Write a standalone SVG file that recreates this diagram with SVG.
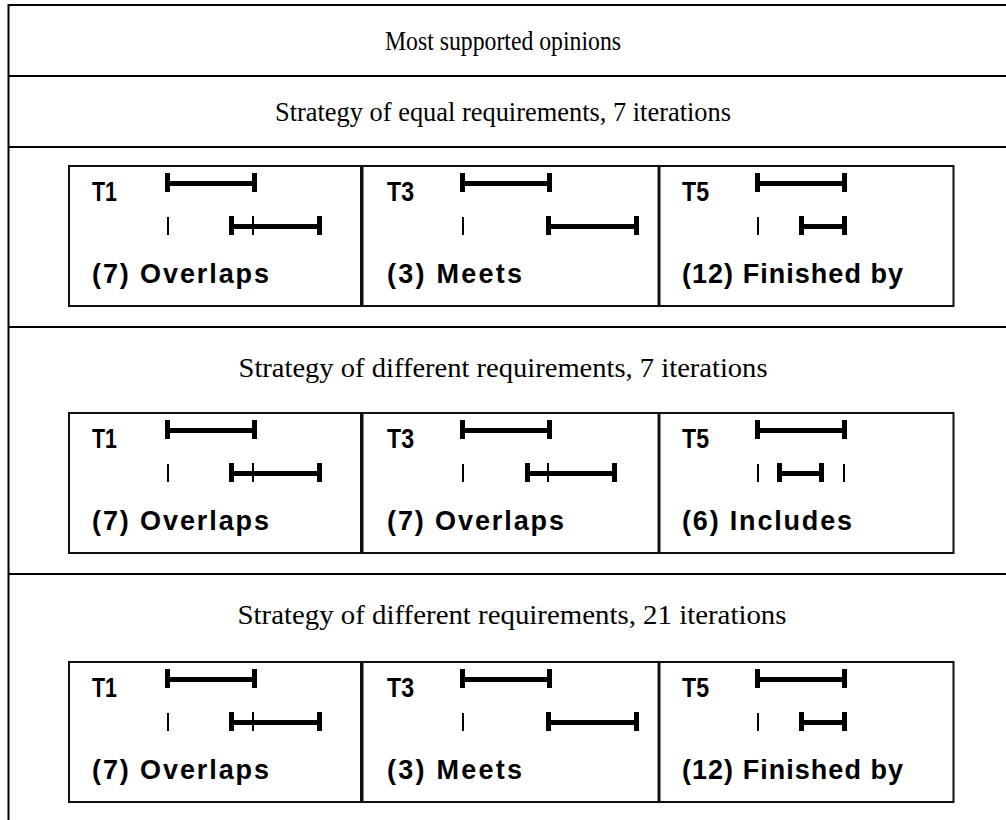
<svg xmlns="http://www.w3.org/2000/svg" width="1006" height="820" viewBox="0 0 1006 820">
<style>
.frame{fill:none;stroke:#000;stroke-width:2}
.title{font-family:"Liberation Serif","Times New Roman",serif;font-size:28px;fill:#000;text-anchor:middle}
.panel{fill:#fff;stroke:#111;stroke-width:2}
.tl{font-family:"Liberation Sans",Arial,sans-serif;font-size:28px;font-weight:bold;fill:#000}
.lb{font-family:"Liberation Sans",Arial,sans-serif;font-size:27px;font-weight:bold;fill:#000}
.b{fill:#000}
</style>
<rect width="1006" height="820" fill="#fff"/>
<g id="frame">
<path class="frame" d="M1006 5H8.5V820M8.5 76H1006M8.5 147H1006M8.5 327H1006M8.5 574H1006"/>
</g>
<g id="header"><text class="title" x="503" y="50" textLength="236" lengthAdjust="spacingAndGlyphs">Most supported opinions</text></g>
<g id="section1-title"><text class="title" x="503" y="121" textLength="456" lengthAdjust="spacingAndGlyphs">Strategy of equal requirements, 7 iterations</text></g>
<g id="section2-title"><text class="title" x="503" y="377" textLength="529" lengthAdjust="spacingAndGlyphs">Strategy of different requirements, 7 iterations</text></g>
<g id="section3-title"><text class="title" x="512" y="624" textLength="549" lengthAdjust="spacingAndGlyphs">Strategy of different requirements, 21 iterations</text></g>

<g id="row1">
<g id="r1-t1">
<rect class="panel" x="69" y="166" width="292" height="140"/>
<text class="tl" x="92" y="200.5" textLength="25" lengthAdjust="spacingAndGlyphs">T1</text>
<rect class="b" x="165" y="181" width="92" height="5"/><rect class="b" x="165" y="173" width="5" height="19"/><rect class="b" x="252" y="173" width="5" height="19"/>
<rect class="b" x="167" y="217" width="2" height="18"/>
<rect class="b" x="229" y="224" width="93" height="5"/><rect class="b" x="229" y="216" width="5" height="19"/><rect class="b" x="317" y="216" width="5" height="19"/><rect class="b" x="252" y="216" width="2" height="19"/>
<text class="lb" x="92" y="283" textLength="177" lengthAdjust="spacing">(7) Overlaps</text>
</g>
<g id="r1-t3">
<rect class="panel" x="362.5" y="166" width="296" height="140"/>
<text class="tl" x="387" y="200.5" textLength="27" lengthAdjust="spacingAndGlyphs">T3</text>
<rect class="b" x="460" y="181" width="92" height="5"/><rect class="b" x="460" y="173" width="5" height="19"/><rect class="b" x="547" y="173" width="5" height="19"/>
<rect class="b" x="462" y="217" width="2" height="18"/>
<rect class="b" x="546" y="224" width="93" height="5"/><rect class="b" x="546" y="216" width="5" height="19"/><rect class="b" x="634" y="216" width="5" height="19"/>
<text class="lb" x="387" y="283" textLength="135" lengthAdjust="spacing">(3) Meets</text>
</g>
<g id="r1-t5">
<rect class="panel" x="659.5" y="166" width="294" height="140"/>
<text class="tl" x="682" y="200.5" textLength="27" lengthAdjust="spacingAndGlyphs">T5</text>
<rect class="b" x="755" y="181" width="92" height="5"/><rect class="b" x="755" y="173" width="5" height="19"/><rect class="b" x="842" y="173" width="5" height="19"/>
<rect class="b" x="757" y="217" width="2" height="18"/>
<rect class="b" x="799" y="224" width="48" height="5"/><rect class="b" x="799" y="216" width="5" height="19"/><rect class="b" x="842" y="216" width="5" height="19"/>
<text class="lb" x="682" y="283" textLength="221" lengthAdjust="spacing">(12) Finished by</text>
</g>
</g>

<g id="row2" transform="translate(0,247)">
<g id="r2-t1">
<rect class="panel" x="69" y="166" width="292" height="140"/>
<text class="tl" x="92" y="200.5" textLength="25" lengthAdjust="spacingAndGlyphs">T1</text>
<rect class="b" x="165" y="181" width="92" height="5"/><rect class="b" x="165" y="173" width="5" height="19"/><rect class="b" x="252" y="173" width="5" height="19"/>
<rect class="b" x="167" y="217" width="2" height="18"/>
<rect class="b" x="229" y="224" width="93" height="5"/><rect class="b" x="229" y="216" width="5" height="19"/><rect class="b" x="317" y="216" width="5" height="19"/><rect class="b" x="252" y="216" width="2" height="19"/>
<text class="lb" x="92" y="283" textLength="177" lengthAdjust="spacing">(7) Overlaps</text>
</g>
<g id="r2-t3">
<rect class="panel" x="362.5" y="166" width="296" height="140"/>
<text class="tl" x="387" y="200.5" textLength="27" lengthAdjust="spacingAndGlyphs">T3</text>
<rect class="b" x="460" y="181" width="92" height="5"/><rect class="b" x="460" y="173" width="5" height="19"/><rect class="b" x="547" y="173" width="5" height="19"/>
<rect class="b" x="462" y="217" width="2" height="18"/>
<rect class="b" x="525" y="224" width="92" height="5"/><rect class="b" x="525" y="216" width="5" height="19"/><rect class="b" x="612" y="216" width="5" height="19"/><rect class="b" x="547" y="216" width="2" height="19"/>
<text class="lb" x="387" y="283" textLength="177" lengthAdjust="spacing">(7) Overlaps</text>
</g>
<g id="r2-t5">
<rect class="panel" x="659.5" y="166" width="294" height="140"/>
<text class="tl" x="682" y="200.5" textLength="27" lengthAdjust="spacingAndGlyphs">T5</text>
<rect class="b" x="755" y="181" width="92" height="5"/><rect class="b" x="755" y="173" width="5" height="19"/><rect class="b" x="842" y="173" width="5" height="19"/>
<rect class="b" x="757" y="217" width="2" height="18"/><rect class="b" x="843" y="217" width="2" height="18"/>
<rect class="b" x="777" y="224" width="47" height="5"/><rect class="b" x="777" y="216" width="5" height="19"/><rect class="b" x="819" y="216" width="5" height="19"/>
<text class="lb" x="682" y="283" textLength="170" lengthAdjust="spacing">(6) Includes</text>
</g>
</g>

<g id="row3" transform="translate(0,496)">
<g id="r3-t1">
<rect class="panel" x="69" y="166" width="292" height="140"/>
<text class="tl" x="92" y="200.5" textLength="25" lengthAdjust="spacingAndGlyphs">T1</text>
<rect class="b" x="165" y="181" width="92" height="5"/><rect class="b" x="165" y="173" width="5" height="19"/><rect class="b" x="252" y="173" width="5" height="19"/>
<rect class="b" x="167" y="217" width="2" height="18"/>
<rect class="b" x="229" y="224" width="93" height="5"/><rect class="b" x="229" y="216" width="5" height="19"/><rect class="b" x="317" y="216" width="5" height="19"/><rect class="b" x="252" y="216" width="2" height="19"/>
<text class="lb" x="92" y="283" textLength="177" lengthAdjust="spacing">(7) Overlaps</text>
</g>
<g id="r3-t3">
<rect class="panel" x="362.5" y="166" width="296" height="140"/>
<text class="tl" x="387" y="200.5" textLength="27" lengthAdjust="spacingAndGlyphs">T3</text>
<rect class="b" x="460" y="181" width="92" height="5"/><rect class="b" x="460" y="173" width="5" height="19"/><rect class="b" x="547" y="173" width="5" height="19"/>
<rect class="b" x="462" y="217" width="2" height="18"/>
<rect class="b" x="546" y="224" width="93" height="5"/><rect class="b" x="546" y="216" width="5" height="19"/><rect class="b" x="634" y="216" width="5" height="19"/>
<text class="lb" x="387" y="283" textLength="135" lengthAdjust="spacing">(3) Meets</text>
</g>
<g id="r3-t5">
<rect class="panel" x="659.5" y="166" width="294" height="140"/>
<text class="tl" x="682" y="200.5" textLength="27" lengthAdjust="spacingAndGlyphs">T5</text>
<rect class="b" x="755" y="181" width="92" height="5"/><rect class="b" x="755" y="173" width="5" height="19"/><rect class="b" x="842" y="173" width="5" height="19"/>
<rect class="b" x="757" y="217" width="2" height="18"/>
<rect class="b" x="799" y="224" width="48" height="5"/><rect class="b" x="799" y="216" width="5" height="19"/><rect class="b" x="842" y="216" width="5" height="19"/>
<text class="lb" x="682" y="283" textLength="221" lengthAdjust="spacing">(12) Finished by</text>
</g>
</g>
<g id="connectors"/>
</svg>
